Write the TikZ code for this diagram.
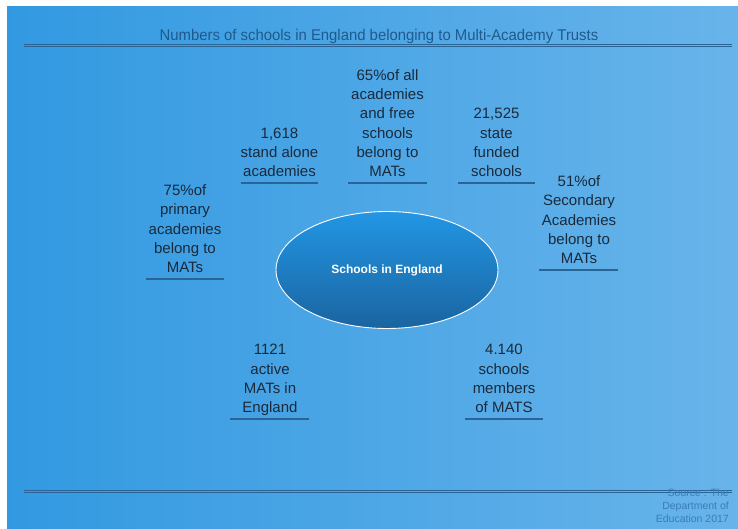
\documentclass[tikz,border=0pt]{standalone}
\usepackage{fontspec}
\setmainfont{Liberation Sans}
\usetikzlibrary{shapes.geometric}
\definecolor{bgL}{RGB}{50,153,225}
\definecolor{bgR}{RGB}{104,180,234}
\definecolor{barC}{RGB}{40,100,150}
\definecolor{txtC}{RGB}{26,42,60}
\definecolor{titleC}{RGB}{32,90,140}
\definecolor{srcC}{RGB}{58,124,188}
\definecolor{ellT}{RGB}{34,150,228}
\definecolor{ellB}{RGB}{26,100,160}
\tikzset{
  stat/.style={align=center, anchor=south, inner sep=0pt, text depth=0pt, text=txtC,
    font=\fontsize{15}{19.3}\selectfont},
  statbar/.style={draw=barC, line width=2.6pt},
  rule/.style={draw=barC, line width=1pt}
}
\begin{document}
\begin{tikzpicture}[x=1pt,y=-1pt]
\useasboundingbox (0,0) rectangle (738,529);
\fill[white] (0,0) rectangle (738,529);
\shade[left color=bgL, right color=bgR] (7,7) rectangle (738,529);
% title
\node[text=titleC, inner sep=0pt] (title) at (379,36.5)
  {\scalebox{0.96}[1]{\fontsize{15.5}{17}\selectfont Numbers of schools in England belonging to Multi-Academy Trusts}};
\draw[rule, line width=0.8pt] (24,44.3) -- (732,44.3);
\draw[rule, line width=1.3pt] (24,46.6) -- (732,46.6);
% bottom rules
\draw[rule, line width=0.8pt] (24,490.3) -- (732,490.3);
\draw[rule, line width=1.3pt] (24,492.6) -- (732,492.6);
% source
\node[align=right, anchor=north east, inner sep=0pt, text=srcC,
  font=\fontsize{10.5}{12.8}\selectfont] (src) at (729,489)
  {Source : The\\Department of\\Education 2017};
% ellipse
\node[ellipse, minimum width=222pt, minimum height=117pt, draw=white, line width=0.9pt,
  top color=ellT, bottom color=ellB, text=white,
  font=\fontsize{12}{14}\selectfont\bfseries] (center) at (387,270) {Schools in England};
% stats
\node[stat] (s1) at (279.5,177) {1,618\\stand alone\\academies};
\draw[statbar] (241,183) -- (318,183);
\node[stat] (s2) at (387.5,177) {65\%of all\\academies\\and free\\schools\\belong to\\MATs};
\draw[statbar] (348,183) -- (427,183);
\node[stat] (s3) at (496.5,177) {21,525\\state\\funded\\schools};
\draw[statbar] (458,183) -- (535,183);
\node[stat] (s4) at (579,264) {51\%of\\Secondary\\Academies\\belong to\\MATs};
\draw[statbar] (539,270) -- (618,270);
\node[stat] (s5) at (185,273) {75\%of\\primary\\academies\\belong to\\MATs};
\draw[statbar] (146,279) -- (224,279);
\node[stat] (s6) at (270,413) {1121\\active\\MATs in\\England};
\draw[statbar] (230,419) -- (309,419);
\node[stat] (s7) at (504,413) {4.140\\schools\\members\\of MATS};
\draw[statbar] (465,419) -- (543,419);
\end{tikzpicture}
\end{document}
